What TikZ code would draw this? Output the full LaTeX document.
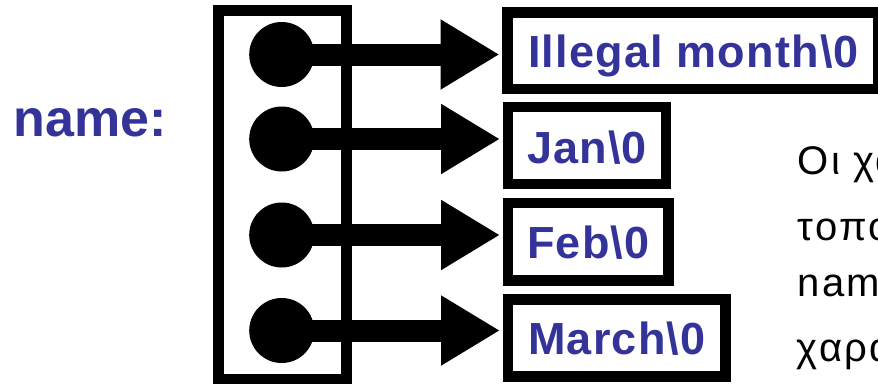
\documentclass[tikz,border=0pt]{standalone}
\usepackage{fontspec}
\setmainfont{Liberation Sans}
\newfontfamily\lblfont[LetterSpace=2.7]{Liberation Sans}
\newfontfamily\grkfont[LetterSpace=6]{Liberation Sans}
\usetikzlibrary{arrows.meta}
\definecolor{txtblue}{HTML}{333399}
\tikzset{
  x=1pt, y=-1pt,
  strbox/.style={draw=black, line width=10.5pt, rectangle, inner sep=0pt, fill=white},
  lbl/.style={anchor=base, inner sep=0pt, text=txtblue, font=\lblfont\bfseries\fontsize{45}{54}\selectfont},
  dot/.style={circle, fill=black, inner sep=0pt, minimum size=65pt},
  ptr/.style={line width=22pt, -{Triangle[length=59pt, width=66pt]}, shorten >=2.75pt},
  greek/.style={anchor=base west, inner sep=0pt, font=\grkfont\fontsize{40}{48}\selectfont}
}
\begin{document}
\begin{tikzpicture}
\useasboundingbox (0,0) rectangle (878,383);
\clip (0,0) rectangle (878,383);
\fill[white] (0,0) rectangle (878,383);
% pointer array
\node[draw=black, line width=11pt, rectangle, inner sep=0pt, minimum width=128pt, minimum height=368.5pt] (arr) at (282,194.75) {};
% strings
\node[strbox, minimum width=370.5pt, minimum height=76.7pt] (b0) at (692.75,50.65) {};
\node[strbox, minimum width=158pt, minimum height=77pt] (b1) at (587,145.5) {};
\node[strbox, minimum width=160.5pt, minimum height=77.5pt] (b2) at (588.25,241.75) {};
\node[strbox, minimum width=217.5pt, minimum height=77pt] (b3) at (616.75,338) {};
\node[lbl] (t0) at (693.5,67) {Illegal month\textbackslash 0};
\node[lbl] (t1) at (587,163.3) {Jan\textbackslash 0};
\node[lbl] (t2) at (588.5,258) {Feb\textbackslash 0};
\node[lbl] (t3) at (617,354) {March\textbackslash 0};
% dots
\node[dot] (d0) at (281.7,54.5) {};
\node[dot] (d1) at (281.7,139) {};
\node[dot] (d2) at (281.7,235) {};
\node[dot] (d3) at (281.7,330.5) {};
% pointers
\draw[ptr] (d0.center) -- (d0.center -| b0.west);
\draw[ptr] (d1.center) -- (d1.center -| b1.west);
\draw[ptr] (d2.center) -- (d2.center -| b2.west);
\draw[ptr] (d3.center) -- (d3.center -| b3.west);
% label
\node[anchor=base west, inner sep=0pt, text=txtblue, font=\bfseries\fontsize{52}{62}\selectfont] (name) at (13.3,136.7) {name:};
% greek text (cut off at the right edge, as in the reference)
\node[greek] (g1) at (797.5,174) {Οι χαρακτήρες};
\node[greek] (g2) at (797.5,240) {τοποθετούνται};
\node[greek] (g3) at (797.5,296.5) {name};
\node[greek] (g4) at (796.5,361.5) {χαρακτήρων};
\end{tikzpicture}
\end{document}
